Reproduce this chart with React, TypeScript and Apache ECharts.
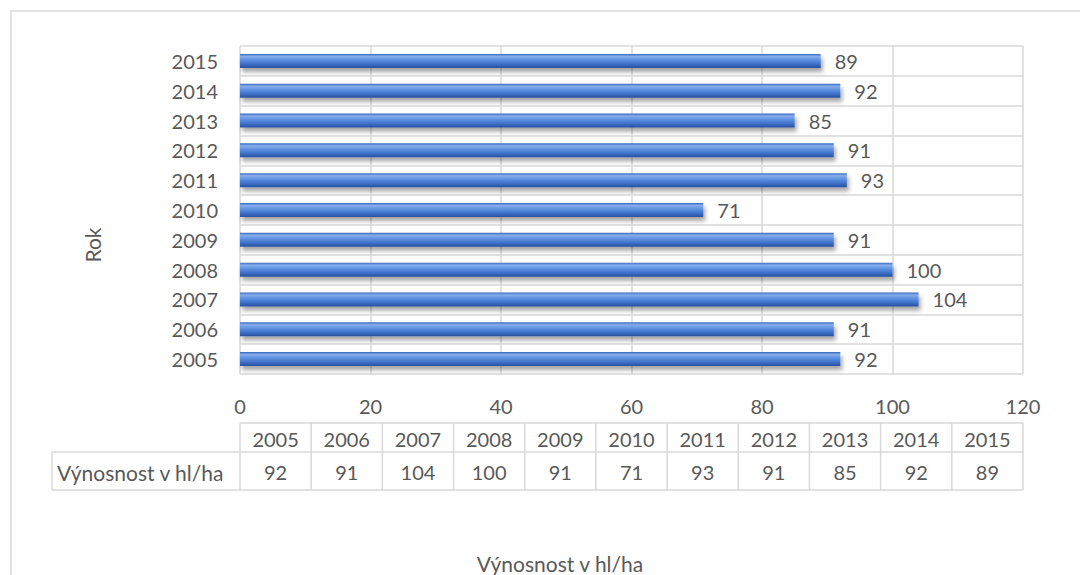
import React, { useEffect, useRef } from "react";
import * as echarts from "echarts";

const years: string[] = ["2005", "2006", "2007", "2008", "2009", "2010", "2011", "2012", "2013", "2014", "2015"];
const values: number[] = [92, 91, 104, 100, 91, 71, 93, 91, 85, 92, 89];
const xMin = 0;
const xMax = 120;
const xInterval = 20;
const seriesName = "Výnosnost v hl/ha";
const yAxisTitle = "Rok";
const xAxisTitle = "Výnosnost v hl/ha";

const FONT = "Lato, 'Noto Sans', sans-serif";
const TEXT = "#595959";
const LINE = "#d9d9d9";
const FS = 20;
const FS_WORD = 21;

export default function App() {
  const ref = useRef<HTMLDivElement>(null);
  useEffect(() => {
    const chart = echarts.init(ref.current!, null, { renderer: "svg" });
    const W = 1080;
    const gridLeft = 240;
    const gridRight = 57;
    const gridTop = 46;
    const gridBottom = 201;
    const plotL = gridLeft;
    const plotR = W - gridRight;
    const colW = (plotR - plotL) / years.length;
    const row1Top = 423;
    const row1Bot = 452;
    const row2Bot = 490;
    const labelLeft = 52;

    const lineStyle = { stroke: LINE, lineWidth: 1.5 };
    const graphics: any[] = [];
    graphics.push({
      type: "rect",
      shape: { x: 11, y: 11, width: 1200, height: 700 },
      style: { fill: "none", stroke: LINE, lineWidth: 1.5 },
      silent: true,
    });
    graphics.push({ type: "line", shape: { x1: plotL, y1: row1Top, x2: plotR, y2: row1Top }, style: lineStyle });
    graphics.push({ type: "line", shape: { x1: labelLeft, y1: row1Bot, x2: plotR, y2: row1Bot }, style: lineStyle });
    graphics.push({ type: "line", shape: { x1: labelLeft, y1: row2Bot, x2: plotR, y2: row2Bot }, style: lineStyle });
    graphics.push({ type: "line", shape: { x1: labelLeft, y1: row1Bot, x2: labelLeft, y2: row2Bot }, style: lineStyle });
    for (let i = 0; i <= years.length; i++) {
      const x = plotL + i * colW;
      graphics.push({ type: "line", shape: { x1: x, y1: row1Top, x2: x, y2: row2Bot }, style: lineStyle });
    }
    years.forEach((y, i) => {
      const cx = plotL + (i + 0.5) * colW;
      graphics.push({
        type: "text",
        x: cx,
        y: (row1Top + row1Bot) / 2 + 1,
        style: { text: y, fill: TEXT, font: `${FS}px ${FONT}`, align: "center", verticalAlign: "middle" },
      });
      graphics.push({
        type: "text",
        x: cx,
        y: (row1Bot + row2Bot) / 2 + 1,
        style: { text: String(values[i]), fill: TEXT, font: `${FS}px ${FONT}`, align: "center", verticalAlign: "middle" },
      });
    });
    graphics.push({
      type: "text",
      x: 57,
      y: (row1Bot + row2Bot) / 2 + 1,
      style: { text: seriesName, fill: TEXT, font: `${FS_WORD}px ${FONT}`, align: "left", verticalAlign: "middle" },
    });
    graphics.push({
      type: "text",
      x: 560,
      y: 563,
      style: { text: xAxisTitle, fill: TEXT, font: `${FS_WORD}px ${FONT}`, align: "center", verticalAlign: "middle" },
    });
    graphics.push({
      type: "text",
      x: 92,
      y: 245,
      rotation: Math.PI / 2,
      style: { text: yAxisTitle, fill: TEXT, font: `${FS_WORD}px ${FONT}`, align: "center", verticalAlign: "middle" },
    });

    chart.setOption({
      animation: false,
      backgroundColor: "#ffffff",
      grid: { left: gridLeft, right: gridRight, top: gridTop, bottom: gridBottom, containLabel: false },
      xAxis: {
        type: "value",
        min: xMin,
        max: xMax,
        interval: xInterval,
        axisLine: { show: false },
        axisTick: { show: false },
        splitLine: { show: true, lineStyle: { color: LINE, width: 1.5 } },
        axisLabel: { color: TEXT, fontSize: FS, fontFamily: FONT, margin: 22 },
      },
      yAxis: {
        type: "category",
        data: years,
        axisLine: { show: false },
        axisTick: { show: false },
        splitLine: { show: true, lineStyle: { color: LINE, width: 1.5 } },
        axisLabel: { color: TEXT, fontSize: FS, fontFamily: FONT, margin: 22 },
      },
      series: [
        {
          name: seriesName,
          type: "bar",
          data: values,
          barWidth: 14,
          itemStyle: {
            color: new echarts.graphic.LinearGradient(0, 0, 0, 1, [
              { offset: 0, color: "#3a68bf" },
              { offset: 0.18, color: "#87aeec" },
              { offset: 0.4, color: "#6394e3" },
              { offset: 0.7, color: "#4073cc" },
              { offset: 1, color: "#27509e" },
            ]),
            shadowColor: "rgba(0,0,0,0.35)",
            shadowBlur: 4,
            shadowOffsetX: 2,
            shadowOffsetY: 4,
          },
          label: {
            show: true,
            position: "right",
            distance: 14,
            color: TEXT,
            fontSize: FS,
            fontFamily: FONT,
          },
        },
      ],
      graphic: graphics,
    });
    return () => chart.dispose();
  }, []);
  return <div ref={ref} style={{ position: "fixed", left: 0, top: 0, width: 1080, height: 575 }} />;
}
